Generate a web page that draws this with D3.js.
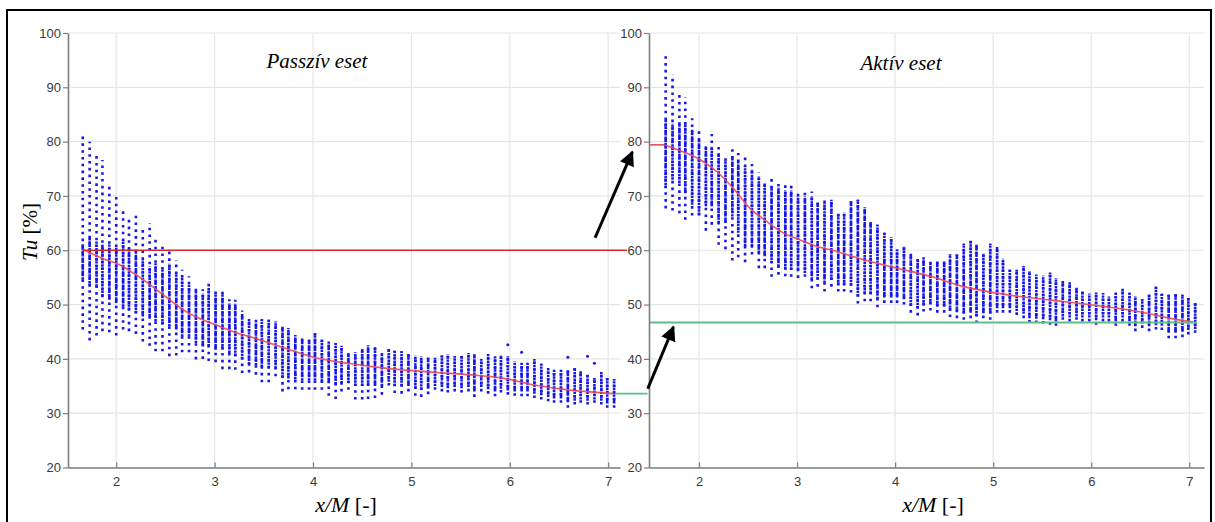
<!DOCTYPE html>
<html>
<head>
<meta charset="utf-8">
<script src="https://cdn.jsdelivr.net/npm/d3@7/dist/d3.min.js"></script>
<style>
  body { margin: 0; background: #fff; }
</style>
</head>
<body>
<script>

// x/M position of each measured column (same for both cases)
var xCols = [1.66,1.73,1.80,1.86,1.93,2.00,2.07,2.13,2.20,2.27,2.34,2.40,2.47,2.54,2.61,2.67,2.74,2.81,2.88,2.94,
             3.01,3.08,3.15,3.21,3.28,3.35,3.42,3.48,3.55,3.62,3.69,3.75,3.82,3.89,3.96,4.02,4.09,4.16,4.23,4.29,
             4.36,4.43,4.50,4.56,4.63,4.70,4.77,4.83,4.90,4.97,5.04,5.10,5.17,5.24,5.31,5.37,5.44,5.51,5.58,5.64,
             5.71,5.78,5.85,5.91,5.98,6.05,6.12,6.18,6.25,6.32,6.39,6.45,6.52,6.59,6.66,6.72,6.79,6.86,6.93,6.99,7.06];

// Passzív eset - column envelopes (Tu %)
var passTop = [81.0,80.0,77.5,76.6,71.7,70.4,67.6,65.9,66.7,63.8,65.0,62.6,61.4,60.1,58.2,56.4,55.2,53.3,52.8,53.9,
               52.8,53.0,51.0,50.9,48.9,47.5,47.2,47.3,47.2,46.9,45.9,45.7,44.4,43.8,43.5,44.7,43.6,43.2,42.9,42.4,
               41.1,41.2,41.8,42.5,42.3,41.1,41.8,41.5,41.4,41.1,40.6,40.5,40.2,40.2,40.6,40.8,40.5,40.6,41.1,40.8,
               40.0,41.0,40.5,40.6,40.5,39.5,39.4,39.3,40.0,39.1,38.3,38.0,38.0,38.0,38.3,37.7,37.1,36.5,37.7,36.5,36.3];
var passCoreTop = [61.3,62.5,61.6,61.0,61.3,60.7,61.9,60.4,60.1,58.2,57.0,57.6,56.4,57.6,55.8,55.2,53.9,52.7,52.1,53.3,
                   52.1,52.1,50.3,50.3,48.4];
var passCoreBot = [54.6,53.3,53.3,51.5,50.9,50.3,49.6,49.0,48.4,47.8,47.8,46.9,46.3,46.0,45.4,44.1,44.1,42.9,42.3,42.3,
                   41.7,41.7,41.1,40.5,39.9,39.0,38.8,38.5,38.3,38.2,36.5,36.4,36.2,36.0,36.0,36.0,35.8,35.5,35.3,35.5,
                   35.5,35.0,35.0,35.0,35.0,35.0,35.8,35.0,35.0,35.0,34.5,34.3,34.5,35.0,34.8,34.6,34.8,34.6,34.8,34.0,
                   34.8,34.4,34.0,34.5,34.2,34.0,34.0,34.0,33.6,33.3,33.0,32.7,32.7,32.0,32.3,32.5,32.3,32.5,32.3,31.8,31.8];
var passBot = [45.4,43.4,44.3,45.1,44.9,44.3,45.4,45.1,44.6,43.2,42.4,41.4,41.4,40.5,40.6,41.2,41.2,39.9,40.0,39.6,
               39.4,38.1,38.1,38.0,37.4,37.5,37.1,35.7,35.7,36.8,34.0,34.4,34.4,34.3,34.3,34.3,34.3,33.2,32.6,34.0,
               34.3,32.5,32.5,32.6,32.8,33.4,35.1,33.7,33.6,34.0,33.2,33.0,33.5,34.3,34.0,33.8,34.0,33.8,34.0,33.0,
               34.0,33.6,33.1,33.8,33.4,33.2,33.1,33.1,32.8,32.5,32.2,31.9,31.9,31.0,31.6,31.9,31.6,31.9,31.6,31.0,31.0];
var passOutX = [5.98, 6.12, 6.59, 6.79, 6.86];
var passOutY = [42.6, 41.2, 40.3, 40.5, 39.2];
var passMeanX = [1.66,1.86,2.04,2.20,2.37,2.54,2.71,2.88,3.05,3.22,3.41,3.71,4.05,4.39,4.73,5.26,5.57,5.91,6.25,6.59,7.06];
var passMeanY = [60.2,58.5,57.3,55.5,53.3,50.9,48.7,47.2,46.0,44.8,43.8,42.0,40.1,39.1,38.3,37.5,37.1,36.5,35.2,34.3,33.6];

// Aktív eset - column envelopes (Tu %)
var aktTop = [96.0,92.4,89.2,88.2,84.3,82.5,79.8,81.4,79.0,77.7,79.1,77.9,77.1,75.9,74.3,73.0,73.6,72.2,72.0,71.9,
              70.8,71.1,70.8,69.4,69.8,69.3,66.8,66.9,69.0,69.3,67.9,65.3,64.7,63.2,62.4,60.2,60.8,59.5,58.4,58.7,
              57.9,58.1,58.1,59.2,59.2,61.2,61.8,61.0,59.4,61.2,60.6,58.5,56.4,56.4,57.1,56.1,55.5,55.3,55.9,54.9,
              54.4,54.3,53.3,52.4,52.0,52.2,52.1,51.5,52.2,53.0,52.2,51.5,51.0,51.8,53.3,52.0,51.8,52.0,51.8,51.2,50.4];
var aktCoreTop = [84.0,83.4,83.4,83.4,82.2,80.3,79.1,79.1,77.9,76.6,77.3,76.6,75.4,74.8,73.6,72.4,71.7,71.7,71.1,71.1,
                  69.9,69.9,69.9,68.7,68.7];
var aktCoreBot = [71.4,73.0,72.4,70.5,68.4,66.5,68.1,68.1,65.0,65.0,66.2,63.2,60.7,60.7,59.5,58.9,57.6,57.0,56.4,56.4,
                  56.4,55.8,54.6,54.6,54.0,54.5,53.5,53.5,53.5,51.5,52.0,52.0,51.0,51.3,51.3,51.3,51.0,49.8,49.3,49.8,
                  50.0,49.6,49.6,48.8,48.6,48.3,48.5,47.8,48.4,48.3,49.3,49.3,49.3,48.8,48.3,47.5,47.4,47.3,47.1,46.9,
                  47.8,47.6,47.8,47.6,47.6,47.1,47.6,47.6,46.9,47.6,46.9,46.0,46.5,46.0,46.2,46.1,44.8,44.8,45.0,45.3,45.5];
var aktBot = [67.7,67.3,66.8,65.6,66.4,66.4,63.6,64.7,61.0,60.2,58.1,58.7,57.8,59.2,56.7,56.7,55.1,55.5,55.2,55.1,
              54.9,55.1,53.0,53.3,52.4,53.3,52.4,52.4,52.2,50.2,50.6,50.6,49.5,50.3,50.3,50.3,50.0,48.5,48.0,48.7,
              48.9,48.5,48.5,47.7,47.5,47.2,47.5,46.6,47.5,47.2,48.5,48.5,48.5,48.1,47.5,46.7,46.6,46.5,46.3,46.1,
              47.2,46.9,47.2,46.9,46.9,46.3,46.9,46.9,46.1,46.9,46.1,45.1,45.7,45.1,45.4,45.3,43.8,43.8,44.0,44.5,44.8];
var aktOutX = [];
var aktOutY = [];
var aktMeanX = [1.65,1.83,2.00,2.18,2.35,2.52,2.69,2.86,3.03,3.20,3.36,3.67,4.02,4.36,4.70,5.22,5.55,5.89,6.23,6.57,6.80,7.06];
var aktMeanY = [79.4,78.2,76.8,74.5,71.4,67.7,65.3,63.2,61.9,60.7,60.0,58.3,56.7,55.2,53.3,51.6,50.9,50.2,49.4,48.4,47.5,46.7];

// reference levels
var passRed = {x: [1.66, 7.19], y: 60};
var passGreen = {x: [7.07, 7.40], y: 33.6};
var aktRed = {x: [1.49, 1.65], y: 79.4};
var aktGreen = {x: [1.49, 7.08], y: 46.7};

// arrows, in the Aktív panel's coordinates
var arrows = [{x1: 0.94, y1: 62.3, x2: 1.32, y2: 78.1},
              {x1: 1.477, y1: 34.5, x2: 1.74, y2: 45.9}];

var xTicks = [2, 3, 4, 5, 6, 7];
var yTicks = [20, 30, 40, 50, 60, 70, 80, 90, 100];

var W = 1215, H = 522;
var svg = d3.select("body").append("svg")
  .attr("width", W)
  .attr("height", H);

// outer frame
svg.append("rect")
  .attr("x", 7).attr("y", 10)
  .attr("width", 1204).attr("height", 530)
  .attr("fill", "none")
  .attr("stroke", "#000")
  .attr("stroke-width", 2);

var y = d3.scaleLinear().domain([20, 100]).range([467.5, 33]);

var panels = [{
  title: "Passzív eset", titleX: 317, titleY: 68,
  x: d3.scaleLinear().domain([1.51, 7.12]).range([68, 620]),
  top: passTop, coreTop: passCoreTop, coreBot: passCoreBot, bot: passBot,
  outX: passOutX, outY: passOutY,
  meanX: passMeanX, meanY: passMeanY, red: passRed, green: passGreen,
  labelX: 346
}, {
  title: "Aktív eset", titleX: 901, titleY: 70,
  x: d3.scaleLinear().domain([1.49, 7.15]).range([649, 1204]),
  top: aktTop, coreTop: aktCoreTop, coreBot: aktCoreBot, bot: aktBot,
  outX: aktOutX, outY: aktOutY,
  meanX: aktMeanX, meanY: aktMeanY, red: aktRed, green: aktGreen,
  labelX: 933
}];

var blue = "#1717e6";

panels.forEach(function(p) {
  var g = svg.append("g");
  var x = p.x;
  var x0 = x.range()[0], x1 = x.range()[1];

  // grid
  g.selectAll(".gx").data(xTicks).join("line")
    .attr("x1", function(d) { return x(d); }).attr("x2", function(d) { return x(d); })
    .attr("y1", y(100)).attr("y2", y(20))
    .attr("stroke", "#e6e6e6").attr("stroke-width", 1.2);
  g.selectAll(".gy").data(yTicks).join("line")
    .attr("x1", x0).attr("x2", x1)
    .attr("y1", function(d) { return y(d); }).attr("y2", function(d) { return y(d); })
    .attr("stroke", "#e6e6e6").attr("stroke-width", 1.2);

  // columns of points
  var rows = xCols.map(function(xv, i) {
    return {x: xv, top: p.top[i], bot: p.bot[i],
            ct: p.coreTop[i] !== undefined ? p.coreTop[i] : p.top[i], cb: p.coreBot[i]};
  });
  g.selectAll(".sparse").data(rows).join("line")
    .attr("x1", function(d) { return x(d.x); }).attr("x2", function(d) { return x(d.x); })
    .attr("y1", function(d) { return y(d.bot); }).attr("y2", function(d) { return y(d.top); })
    .attr("stroke", blue).attr("stroke-width", 2.6)
    .attr("stroke-dasharray", "2.6,4.2");
  g.selectAll(".core").data(rows).join("line")
    .attr("x1", function(d) { return x(d.x); }).attr("x2", function(d) { return x(d.x); })
    .attr("y1", function(d) { return y(d.cb); }).attr("y2", function(d) { return y(d.ct); })
    .attr("stroke", blue).attr("stroke-width", 2.6)
    .attr("stroke-dasharray", "2.4,0.9");

  // isolated points
  g.selectAll(".out").data(p.outX).join("circle")
    .attr("cx", function(d) { return x(d); })
    .attr("cy", function(d, i) { return y(p.outY[i]); })
    .attr("r", 1.5)
    .attr("fill", blue);

  // mean curve
  g.append("path")
    .datum(p.meanX.map(function(d, i) { return [d, p.meanY[i]]; }))
    .attr("fill", "none")
    .attr("stroke", "#e8485a")
    .attr("stroke-opacity", 0.9)
    .attr("stroke-width", 1.6)
    .attr("d", d3.line().curve(d3.curveMonotoneX)
      .x(function(d) { return x(d[0]); })
      .y(function(d) { return y(d[1]); }));

  // reference lines
  g.append("line")
    .attr("x1", x(p.red.x[0])).attr("x2", x(p.red.x[1]))
    .attr("y1", y(p.red.y)).attr("y2", y(p.red.y))
    .attr("stroke", "#d9262e").attr("stroke-width", 1.3);
  g.append("line")
    .attr("x1", x(p.green.x[0])).attr("x2", x(p.green.x[1]))
    .attr("y1", y(p.green.y)).attr("y2", y(p.green.y))
    .attr("stroke", "#5fbf86").attr("stroke-width", 1.8);

  // axes
  var ax = g.append("g")
    .attr("transform", "translate(0," + y(20) + ")")
    .call(d3.axisBottom(x).tickValues(xTicks).tickFormat(d3.format("d"))
      .tickSizeInner(-5).tickSizeOuter(0).tickPadding(9));
  var ay = g.append("g")
    .attr("transform", "translate(" + x0 + ",0)")
    .call(d3.axisLeft(y).tickValues(yTicks).tickSizeInner(5).tickSizeOuter(0).tickPadding(2));
  [ax, ay].forEach(function(a) {
    a.select(".domain").attr("stroke", "#7d7d7d").attr("stroke-width", 1.6);
    a.selectAll(".tick line").attr("stroke", "#7d7d7d").attr("stroke-width", 1.2);
    a.selectAll("text")
      .attr("fill", "#3a3a3a")
      .style("font-family", "'Liberation Sans', Arial, sans-serif")
      .style("font-size", "13px");
  });

  // title
  g.append("text")
    .attr("x", p.titleX).attr("y", p.titleY)
    .attr("text-anchor", "middle")
    .style("font-family", "'Liberation Serif', 'Times New Roman', serif")
    .style("font-style", "italic")
    .style("font-size", "21px")
    .text(p.title);

  // x label
  var xl = g.append("text")
    .attr("x", p.labelX).attr("y", 512)
    .attr("text-anchor", "middle")
    .style("font-family", "'Liberation Serif', 'Times New Roman', serif")
    .style("font-size", "22px");
  xl.append("tspan").style("font-style", "italic").text("x/M");
  xl.append("tspan").text(" [-]");
});

// y label
var yl = svg.append("text")
  .attr("transform", "translate(37,232) rotate(-90)")
  .attr("text-anchor", "middle")
  .style("font-family", "'Liberation Serif', 'Times New Roman', serif")
  .style("font-size", "21px");
yl.append("tspan").style("font-style", "italic").text("Tu");
yl.append("tspan").text(" [%]");

// arrows
svg.append("defs").append("marker")
  .attr("id", "head")
  .attr("viewBox", "0 0 10 10")
  .attr("refX", 9).attr("refY", 5)
  .attr("markerWidth", 5.5).attr("markerHeight", 5)
  .attr("markerUnits", "strokeWidth")
  .attr("orient", "auto")
  .append("path")
  .attr("d", "M0,0 L10,5 L0,10 Z")
  .attr("fill", "#000");

var xa = panels[1].x;
svg.selectAll(".arrow").data(arrows).join("line")
  .attr("x1", function(d) { return xa(d.x1); }).attr("y1", function(d) { return y(d.y1); })
  .attr("x2", function(d) { return xa(d.x2); }).attr("y2", function(d) { return y(d.y2); })
  .attr("stroke", "#000")
  .attr("stroke-width", 3)
  .attr("marker-end", "url(#head)");

</script>
</body>
</html>
